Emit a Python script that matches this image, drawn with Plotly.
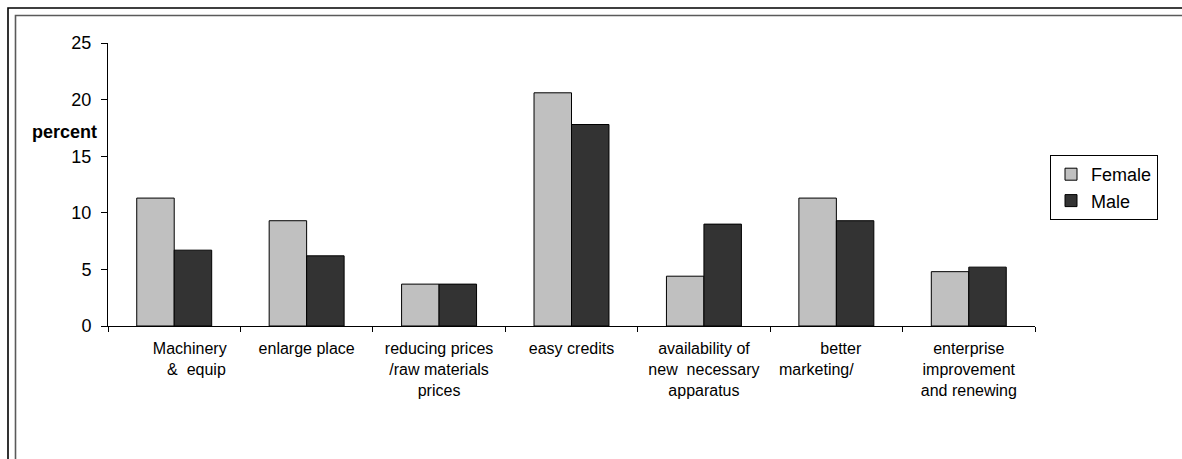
import plotly.graph_objects as go

NBSP = "\u00a0"

# Category labels (line breaks and spacing as printed under the axis)
categories = [
    NBSP * 7 + "Machinery<br>" + NBSP * 10 + "&" + NBSP * 2 + "equip",
    "enlarge place",
    "reducing prices<br>/raw materials<br>prices",
    "easy credits",
    "availability of<br>new" + NBSP * 2 + "necessary<br>apparatus",
    NBSP * 2 + "better<br>marketing/" + NBSP * 9,
    "enterprise<br>improvement<br>and renewing",
]
female = [11.3, 9.3, 3.7, 20.6, 4.4, 11.3, 4.8]
male = [6.7, 6.2, 3.7, 17.8, 9.0, 9.3, 5.2]
y_ticks = [0, 5, 10, 15, 20, 25]

W, H = 1182, 459
ML, MR, MT, MB = 108, 147, 43, 133
PW, PH = W - ML - MR, H - MT - MB


def paper_x(px):
    return (px - ML) / PW


def paper_y(py):
    return (H - MB - py) / PH


FONT = "Liberation Sans, Arial, sans-serif"

fig = go.Figure()
fig.add_trace(go.Bar(
    x=list(range(len(categories))), y=female, name="Female",
    marker=dict(color="#c0c0c0", line=dict(color="#000000", width=1)),
))
fig.add_trace(go.Bar(
    x=list(range(len(categories))), y=male, name="Male",
    marker=dict(color="#333333", line=dict(color="#000000", width=1)),
))

# Double frame around the chart (runs off the right and bottom edges)
frame = []
for pos, color, width in [(8, "#000000", 1.6), (15.5, "#5a5a5a", 1.6)]:
    frame.append(dict(
        type="rect", xref="paper", yref="paper", layer="above",
        x0=paper_x(pos), x1=paper_x(W + 40),
        y0=paper_y(pos), y1=paper_y(H + 40),
        line=dict(color=color, width=width), fillcolor="rgba(0,0,0,0)",
    ))

fig.update_layout(
    width=W, height=H, autosize=False,
    margin=dict(l=ML, r=MR, t=MT, b=MB, pad=0),
    paper_bgcolor="white", plot_bgcolor="white",
    font=dict(family=FONT, color="#000000"),
    barmode="group", bargap=0.434, bargroupgap=0,
    showlegend=True,
    legend=dict(
        x=paper_x(1050), xanchor="left", y=paper_y(155), yanchor="top",
        bordercolor="#000000", borderwidth=1, bgcolor="white",
        font=dict(family=FONT, size=18, color="#000000"),
        tracegroupgap=0, itemwidth=30,
    ),
    xaxis=dict(
        type="category", range=[-0.5, len(categories) - 0.5],
        tickmode="array", tickvals=list(range(len(categories))), ticktext=categories,
        tickson="boundaries", ticks="outside", ticklen=5, tickwidth=1, tickcolor="#000000",
        ticklabelstandoff=8,
        showline=True, linecolor="#000000", linewidth=1,
        showgrid=False, zeroline=False, tickangle=0,
        tickfont=dict(family=FONT, size=16, color="#000000"),
    ),
    yaxis=dict(
        range=[0, 25], tickmode="array", tickvals=y_ticks,
        ticks="outside", ticklen=6, tickwidth=1, tickcolor="#000000",
        ticklabelstandoff=6,
        showline=True, linecolor="#000000", linewidth=1,
        showgrid=False, zeroline=False,
        tickfont=dict(family=FONT, size=18, color="#000000"),
    ),
    annotations=[dict(
        text="<b>percent</b>", xref="paper", yref="paper",
        x=paper_x(64.3), y=paper_y(132), xanchor="center", yanchor="middle",
        showarrow=False, font=dict(family=FONT, size=18, color="#000000"),
    )],
    shapes=frame,
)

fig.write_html("out.html")
